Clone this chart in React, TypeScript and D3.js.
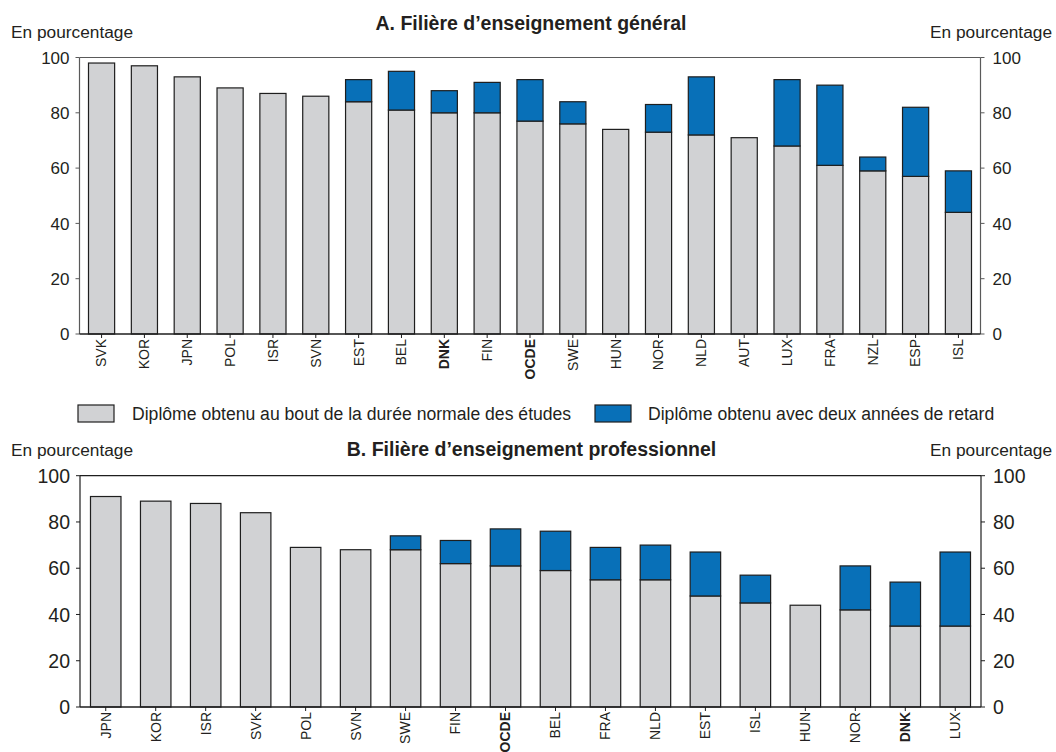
import React from "react";
import * as d3 from "d3";

// Panel A: general education track
const categoriesA = ["SVK", "KOR", "JPN", "POL", "ISR", "SVN", "EST", "BEL", "DNK", "FIN", "OCDE", "SWE", "HUN", "NOR", "NLD", "AUT", "LUX", "FRA", "NZL", "ESP", "ISL"];
const onTimeA = [98, 97, 93, 89, 87, 86, 84, 81, 80, 80, 77, 76, 74, 73, 72, 71, 68, 61, 59, 57, 44];
const lateA = [0, 0, 0, 0, 0, 0, 8, 14, 8, 11, 15, 8, 0, 10, 21, 0, 24, 29, 5, 25, 15];

// Panel B: vocational track
const categoriesB = ["JPN", "KOR", "ISR", "SVK", "POL", "SVN", "SWE", "FIN", "OCDE", "BEL", "FRA", "NLD", "EST", "ISL", "HUN", "NOR", "DNK", "LUX"];
const onTimeB = [91, 89, 88, 84, 69, 68, 68, 62, 61, 59, 55, 55, 48, 45, 44, 42, 35, 35];
const lateB = [0, 0, 0, 0, 0, 0, 6, 10, 16, 17, 14, 15, 19, 12, 0, 19, 19, 32];

const yTicks = [0, 20, 40, 60, 80, 100];
const boldCategories = ["DNK", "OCDE"];

const seriesLabels = [
  "Diplôme obtenu au bout de la durée normale des études",
  "Diplôme obtenu avec deux années de retard",
];
const seriesColors = ["#d1d2d4", "#0870b8"];

const FONT = "'Liberation Sans', Arial, Helvetica, sans-serif";
const INK = "#231f20";

type PanelProps = {
  title: string;
  categories: string[];
  onTime: number[];
  late: number[];
  x0: number;
  x1: number;
  yTop: number;
  yBottom: number;
  tickFont: number;
  frameColor: string;
  titleY: number;
  unitY: number;
};

function Panel(p: PanelProps) {
  const x = d3
    .scaleBand<string>()
    .domain(p.categories)
    .range([p.x0, p.x1])
    .paddingInner(0.39)
    .paddingOuter(0.21);
  const y = d3.scaleLinear().domain([0, 100]).range([p.yBottom, p.yTop]);

  const rows = p.categories.map((c, i) => ({ cat: c, onTime: p.onTime[i], late: p.late[i] }));
  const stacked = d3.stack<any>().keys(["onTime", "late"])(rows);

  return (
    <g>
      <text x={(p.x0 + p.x1) / 2 + 1} y={p.titleY} textAnchor="middle" fontWeight="bold" fontSize={19.5} fill={INK}>
        {p.title}
      </text>
      <text x={11} y={p.unitY} fontSize={17.3} fill={INK}>En pourcentage</text>
      <text x={1052} y={p.unitY} textAnchor="end" fontSize={17.3} fill={INK}>En pourcentage</text>

      {/* frame */}
      <line x1={p.x0} x2={p.x1} y1={p.yTop} y2={p.yTop} stroke={p.frameColor} strokeWidth={1.2} />
      <line x1={p.x0} x2={p.x0} y1={p.yTop} y2={p.yBottom} stroke={p.frameColor} strokeWidth={1.2} />
      <line x1={p.x1} x2={p.x1} y1={p.yTop} y2={p.yBottom} stroke={p.frameColor} strokeWidth={1.2} />

      {/* y ticks on both sides */}
      {yTicks.map((t) => (
        <g key={t}>
          <line x1={p.x0 - 4} x2={p.x0} y1={y(t)} y2={y(t)} stroke={p.frameColor} strokeWidth={1} />
          <line x1={p.x1} x2={p.x1 + 4} y1={y(t)} y2={y(t)} stroke={p.frameColor} strokeWidth={1} />
          <text x={p.x0 - 10} y={y(t)} dy="0.36em" textAnchor="end" fontSize={p.tickFont} fill={INK}>{t}</text>
          <text x={p.x1 + 12} y={y(t)} dy="0.36em" textAnchor="start" fontSize={p.tickFont} fill={INK}>{t}</text>
        </g>
      ))}

      {/* stacked bars */}
      {stacked.map((s, si) => (
        <g key={s.key}>
          {s.map((d, i) =>
            d[1] - d[0] > 0 ? (
              <rect
                key={i}
                x={x(p.categories[i])}
                y={y(d[1])}
                width={x.bandwidth()}
                height={y(d[0]) - y(d[1])}
                fill={seriesColors[si]}
                stroke="#1e1e1e"
                strokeWidth={1.2}
              />
            ) : null
          )}
        </g>
      ))}

      {/* baseline and category axis */}
      <line x1={p.x0} x2={p.x1} y1={p.yBottom} y2={p.yBottom} stroke="#1e1e1e" strokeWidth={1.3} />
      {p.categories.map((c) => {
        const cx = (x(c) as number) + x.bandwidth() / 2;
        return (
          <g key={c}>
            <line x1={cx} x2={cx} y1={p.yBottom} y2={p.yBottom + 4} stroke="#1e1e1e" strokeWidth={1} />
            <text
              transform={`translate(${cx},${p.yBottom + 5}) rotate(-90)`}
              dy="0.35em"
              textAnchor="end"
              fontSize={14}
              fontWeight={boldCategories.includes(c) ? "bold" : "normal"}
              fill={INK}
            >
              {c}
            </text>
          </g>
        );
      })}
    </g>
  );
}

export default function App() {
  return (
    <svg width={1056} height={752} style={{ display: "block", position: "absolute", left: 0, top: 0 }} fontFamily={FONT}>
      <rect x={0} y={0} width={1056} height={752} fill="#ffffff" />
      <Panel
        title="A. Filière d’enseignement général"
        categories={categoriesA}
        onTime={onTimeA}
        late={lateA}
        x0={79.5}
        x1={980.5}
        yTop={57.5}
        yBottom={334}
        tickFont={17}
        frameColor="#5a5a5a"
        titleY={30}
        unitY={38}
      />

      {/* legend */}
      <rect x={78} y={405} width={36} height={17} fill={seriesColors[0]} stroke="#1e1e1e" strokeWidth={1.2} />
      <text x={132} y={420} fontSize={17.6} fill={INK}>{seriesLabels[0]}</text>
      <rect x={595} y={405} width={36} height={17} fill={seriesColors[1]} stroke="#1e1e1e" strokeWidth={1.2} />
      <text x={648} y={420} fontSize={17.6} fill={INK}>{seriesLabels[1]}</text>

      <Panel
        title="B. Filière d’enseignement professionnel"
        categories={categoriesB}
        onTime={onTimeB}
        late={lateB}
        x0={80}
        x1={981}
        yTop={475.7}
        yBottom={707}
        tickFont={19.5}
        frameColor="#1e1e1e"
        titleY={456}
        unitY={456}
      />
    </svg>
  );
}
